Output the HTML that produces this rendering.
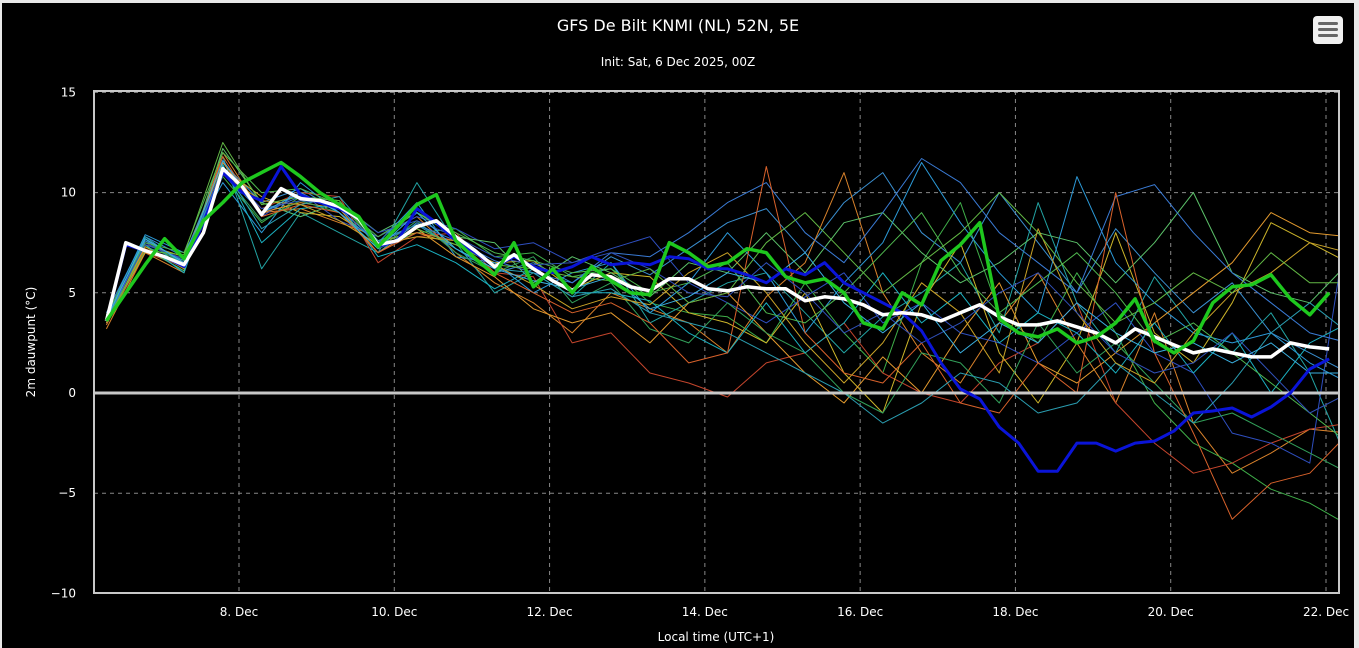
<!DOCTYPE html>
<html><head><meta charset="utf-8"><style>
html,body{margin:0;padding:0;background:#e8e8e8;width:1359px;height:648px;overflow:hidden}
#frame{position:absolute;left:2px;top:3px;width:1352px;height:645px;background:#000}
svg text{font-family:"DejaVu Sans","Liberation Sans",sans-serif;fill:#fff}
</style></head><body>
<div id="frame"></div>
<svg id="chart" width="1359" height="648" style="position:absolute;left:0;top:0">
<text x="678" y="31" text-anchor="middle" font-size="16">GFS De Bilt KNMI (NL) 52N, 5E</text>
<text x="678" y="66" text-anchor="middle" font-size="12">Init: Sat, 6 Dec 2025, 00Z</text>
<g>
<rect x="1313" y="16" width="30" height="28" rx="4" fill="#f0f0f0"/>
<rect x="1318" y="22" width="20" height="3" rx="1.5" fill="#666"/>
<rect x="1318" y="28" width="20" height="3" rx="1.5" fill="#666"/>
<rect x="1318" y="34" width="20" height="3" rx="1.5" fill="#666"/>
</g>
<g id="grid"></g>
<g id="series" clip-path="url(#pc)"></g>
<defs><clipPath id="pc"><rect x="94" y="91" width="1245" height="502"/></clipPath></defs>
<rect x="94" y="91" width="1245" height="502" fill="none" stroke="#c8c8c8" stroke-width="2"/>
<text transform="translate(35,342) rotate(-90)" text-anchor="middle" font-size="12">2m dauwpunt (°C)</text>
<text x="716" y="641" text-anchor="middle" font-size="12">Local time (UTC+1)</text>
</svg>
<script>
const yTicks=[15,10,5,0,-5,-10];
const xTickDays=[8,10,12,14,16,18,20,22];
const meanSeries=[3.6,7.5,7.1,6.8,6.4,8.0,11.2,10.3,8.9,10.2,9.7,9.6,9.3,8.7,7.4,7.6,8.3,8.6,7.8,7.1,6.3,6.9,6.2,5.6,5.1,5.9,5.8,5.3,5.1,5.7,5.7,5.2,5.1,5.3,5.2,5.2,4.6,4.8,4.7,4.4,3.9,4.0,3.9,3.6,4.0,4.4,3.8,3.4,3.4,3.6,3.3,3.0,2.5,3.2,2.8,2.4,2.0,2.2,2.0,1.8,1.8,2.5,2.3,2.2];
const blueSeries=[3.6,7.4,7.1,6.8,6.3,8.5,11.0,10.0,9.6,11.3,9.9,9.5,9.2,8.7,7.3,7.6,9.2,8.5,7.6,7.0,6.3,6.8,6.3,6.0,6.3,6.8,6.4,6.5,6.4,6.8,6.7,6.2,6.2,5.9,5.5,6.2,5.9,6.5,5.5,5.0,4.5,4.0,3.1,1.5,0.2,-0.3,-1.7,-2.5,-3.9,-3.9,-2.5,-2.5,-2.9,-2.5,-2.4,-1.9,-1.0,-0.9,-0.75,-1.2,-0.7,0.0,1.2,1.7];
const greenSeries=[3.6,5.0,6.4,7.7,6.7,8.6,9.5,10.5,11.0,11.5,10.8,10.0,9.4,8.8,7.3,8.3,9.4,9.9,7.6,6.7,5.9,7.5,5.3,6.2,5.0,6.3,5.6,5.0,4.9,7.5,7.0,6.3,6.5,7.2,7.0,5.8,5.5,5.7,5.0,3.5,3.2,5.0,4.4,6.6,7.4,8.5,3.7,3.0,2.8,3.2,2.5,2.8,3.5,4.7,2.6,2.0,2.6,4.5,5.3,5.4,5.9,4.7,3.9,5.0];
const m1=[4.0,7.8,6.8,11.5,9.5,10.2,9.0,7.0,8.5,7.2,6.0,6.5,5.5,6.8,5.9,7.2,8.5,9.2,7.0,9.5,11.0,8.0,6.5,10.0,7.5,5.0,8.2,6.0,4.0,5.5,3.0,2.0,1.0];
const m2=[3.2,7.0,6.0,12.0,9.0,9.2,8.5,7.8,8.8,7.0,5.5,4.5,3.0,5.0,4.2,3.5,2.0,4.8,6.5,11.0,5.0,2.0,0.5,3.5,6.0,2.5,-0.5,4.0,-1.5,-4.0,-3.0,-1.8,-2.0];
const m3=[3.8,7.3,6.6,10.8,8.5,9.8,9.6,7.2,8.0,8.2,6.8,7.0,5.8,6.2,4.5,4.0,3.8,2.5,5.5,3.0,1.0,6.5,9.5,4.0,2.5,6.0,3.0,-0.5,-2.5,-3.5,-4.8,-5.5,-6.6];
const m4=[3.6,7.7,6.2,11.8,6.2,9.0,8.0,7.0,10.5,7.5,5.0,6.0,4.8,6.5,3.5,4.5,5.5,6.0,4.0,2.0,3.8,5.0,6.5,3.0,9.5,4.5,2.0,5.8,3.2,2.0,4.0,1.0,-3.5];
const m5=[3.5,7.0,6.3,11.0,9.2,10.0,9.8,6.5,7.8,8.0,6.0,5.8,2.5,3.0,1.0,0.5,-0.2,1.5,2.0,3.5,1.0,0.0,-0.5,1.5,2.5,4.5,-0.5,-2.5,-4.0,-3.5,-2.5,-1.8,-1.5];
const m6=[3.9,7.4,6.8,11.2,9.8,9.0,8.8,7.6,8.0,7.4,6.5,6.6,5.2,6.0,5.8,4.0,3.5,2.5,5.0,1.0,-1.0,4.5,7.5,2.0,-0.5,2.5,8.0,3.0,1.5,4.5,8.5,7.5,6.5];
const m7=[3.7,7.5,6.5,11.6,8.8,10.0,8.6,7.8,8.8,8.2,7.2,7.5,6.5,7.2,7.8,5.5,4.5,3.5,4.8,6.0,3.5,4.5,3.0,2.5,1.5,3.0,4.5,2.0,1.0,-2.0,-2.5,-3.5,9.0];
const m8=[3.4,7.2,6.1,12.2,9.5,8.8,9.5,8.0,9.0,7.8,7.5,5.5,6.8,6.0,4.8,6.5,6.0,8.0,6.0,8.5,9.0,7.0,5.5,6.5,8.0,7.5,5.5,7.5,10.0,6.0,5.0,4.5,6.5];
const m9=[3.8,7.9,7.0,10.5,8.0,10.5,9.0,7.5,9.5,6.8,6.5,5.0,6.0,6.5,4.0,5.5,8.0,6.0,3.0,5.5,7.5,11.5,8.5,6.0,4.0,10.8,6.5,4.5,3.0,2.5,3.0,1.5,0.5];
const m10=[3.6,7.0,6.5,11.5,9.0,9.5,9.2,7.0,8.2,6.8,5.8,4.2,3.5,4.0,2.5,4.5,5.0,3.0,1.0,-0.5,1.8,0.0,3.0,5.5,1.5,0.5,2.0,3.5,5.0,6.5,9.0,8.0,7.8];
const m11=[3.5,7.6,6.4,11.0,8.6,9.6,9.0,7.2,8.6,7.0,6.0,6.8,4.5,5.5,3.2,2.5,4.5,3.0,2.0,0.0,-1.0,2.0,1.5,-0.5,3.5,1.0,2.5,0.5,-1.5,-1.0,-2.0,-3.0,-4.0];
const m12=[3.7,7.4,6.0,11.4,7.5,9.2,9.4,6.8,7.4,6.5,5.2,6.2,5.0,5.0,4.6,3.0,2.0,4.5,2.0,3.5,6.0,3.5,5.0,2.5,4.0,3.0,1.0,3.5,1.0,3.0,0.0,2.5,3.5];
const m13=[3.5,7.6,6.6,11.0,9.0,9.8,9.2,7.5,8.4,7.6,6.6,6.0,5.5,7.0,6.8,8.0,9.5,10.5,8.0,6.5,9.0,11.7,10.5,8.0,6.5,5.0,9.8,10.4,8.0,6.0,4.5,3.0,2.5];
const m14=[3.4,7.2,6.3,11.8,8.8,9.4,9.0,7.0,8.0,7.6,6.0,5.0,4.0,4.5,3.5,1.5,2.0,11.3,3.0,1.0,0.5,2.5,-0.5,-1.0,1.5,0.0,10.0,2.0,-2.0,-6.3,-4.5,-4.0,-2.0];
const m15=[3.9,7.5,7.0,12.0,10.0,10.2,9.4,7.8,9.0,8.0,7.0,6.6,6.0,6.2,5.0,5.5,6.5,4.0,3.5,5.0,7.0,9.0,6.0,4.0,5.5,7.0,5.0,2.5,3.5,2.0,0.5,-1.0,-2.5];
const m16=[3.6,7.8,6.4,11.3,8.2,9.4,9.8,7.6,8.4,7.2,6.2,6.0,4.8,5.2,4.0,3.5,3.0,2.0,1.0,0.0,-1.5,-0.5,1.0,0.5,-1.0,-0.5,1.5,0.0,-1.5,0.5,3.0,4.5,3.0];
const m17=[3.5,7.3,6.2,10.9,9.6,9.4,8.6,7.4,7.8,7.6,6.4,5.4,4.2,4.8,4.4,6.0,7.0,5.0,2.5,0.5,2.5,5.5,4.0,1.0,8.2,4.0,1.5,0.5,3.0,5.0,6.0,7.5,7.0];
const m18=[3.8,7.4,6.7,11.2,9.2,9.6,9.4,8.0,8.6,7.8,6.8,6.4,6.5,7.0,6.2,5.0,4.8,6.5,5.0,3.0,4.0,2.5,3.5,5.0,6.0,4.0,2.0,1.0,1.5,3.0,1.0,-1.0,0.0];
const m19=[3.6,7.1,6.9,12.5,9.4,9.8,9.6,7.4,8.2,7.4,6.4,6.2,5.8,5.6,6.2,4.5,5.0,7.5,9.0,7.0,5.0,6.5,8.0,10.0,8.0,5.5,3.5,4.5,6.0,5.0,7.0,5.5,5.5];
const m20=[3.7,7.7,6.5,11.6,9.0,10.0,9.0,7.2,9.0,7.2,6.2,5.6,5.2,5.8,4.2,4.8,6.0,5.5,7.0,4.5,3.0,4.5,2.0,3.5,2.5,4.5,3.0,2.0,2.5,1.5,2.5,1.0,1.0];
const members=[m1,m2,m3,m4,m5,m6,m7,m8,m9,m10,m11,m12,m13,m14,m15,m16,m17,m18,m19,m20];
const memberColors=["#3a8fd0","#d9822b","#3fae49","#22a3a3","#c4452c","#cdb52a","#2f4fc0","#5cc26a","#2c9ad8","#e39a2e","#32a05a","#1bb0c0","#3a7bd5","#d9622b","#4fb84f","#2a9db0","#c9a227","#3050b8","#62b845","#3ab0e0"];

const NS="http://www.w3.org/2000/svg";
const startHour=7;
function xScale(h){return 239+(h-48)*(1326-239)/336;}
function yScale(v){return 393-v*(501/25);}
const grid=document.getElementById('grid');
const series=document.getElementById('series');
const svg=document.getElementById('chart');
yTicks.forEach(v=>{
  const y=yScale(v);
  const l=document.createElementNS(NS,'line');
  
  
  l.setAttribute('x1',94);l.setAttribute('x2',1339);l.setAttribute('y1',y);l.setAttribute('y2',y);
  l.setAttribute('stroke','#888');l.setAttribute('stroke-dasharray','4,4');l.setAttribute('stroke-width','1');
  grid.appendChild(l);
  const t=document.createElementNS(NS,'text');
  
  
  t.setAttribute('x',76);t.setAttribute('y',y+4);t.setAttribute('text-anchor','end');t.setAttribute('font-size','12');
  t.textContent=v<0?'\u2212'+(-v):String(v);
  svg.appendChild(t);
});
xTickDays.forEach(d=>{
  const x=xScale((d-6)*24);
  const l=document.createElementNS(NS,'line');
  
  
  l.setAttribute('x1',x);l.setAttribute('x2',x);l.setAttribute('y1',91);l.setAttribute('y2',593);
  l.setAttribute('stroke','#888');l.setAttribute('stroke-dasharray','4,4');
  grid.appendChild(l);
  const t=document.createElementNS(NS,'text');
  
  
  t.setAttribute('x',x);t.setAttribute('y',616);t.setAttribute('text-anchor','middle');t.setAttribute('font-size','12');
  t.textContent=d+'. Dec';
  svg.appendChild(t);
});
function path(vals,step,color,w,name){
  const p=document.createElementNS(NS,'polyline');
  
  
  p.setAttribute('points',vals.map((v,i)=>xScale(startHour+i*step).toFixed(1)+','+yScale(v).toFixed(1)).join(' '));
  p.setAttribute('fill','none');p.setAttribute('stroke',color);p.setAttribute('stroke-width',w);
  p.setAttribute('stroke-linejoin','round');
  series.appendChild(p);
}
members.forEach((m,i)=>path(m,12,memberColors[i],1,'ensemble-member-line'));
const z=document.createElementNS(NS,'line');


z.setAttribute('x1',94);z.setAttribute('x2',1339);z.setAttribute('y1',yScale(0));z.setAttribute('y2',yScale(0));
z.setAttribute('stroke','#c8c8c8');z.setAttribute('stroke-width','3');
series.appendChild(z);
path(blueSeries,6,'#0a14d8',3,'operational-run-line');
path(meanSeries,6,'#ffffff',3.5,'ensemble-mean-line');
path(greenSeries,6,'#1ec81e',3.5,'control-run-line');
</script>
</body></html>
